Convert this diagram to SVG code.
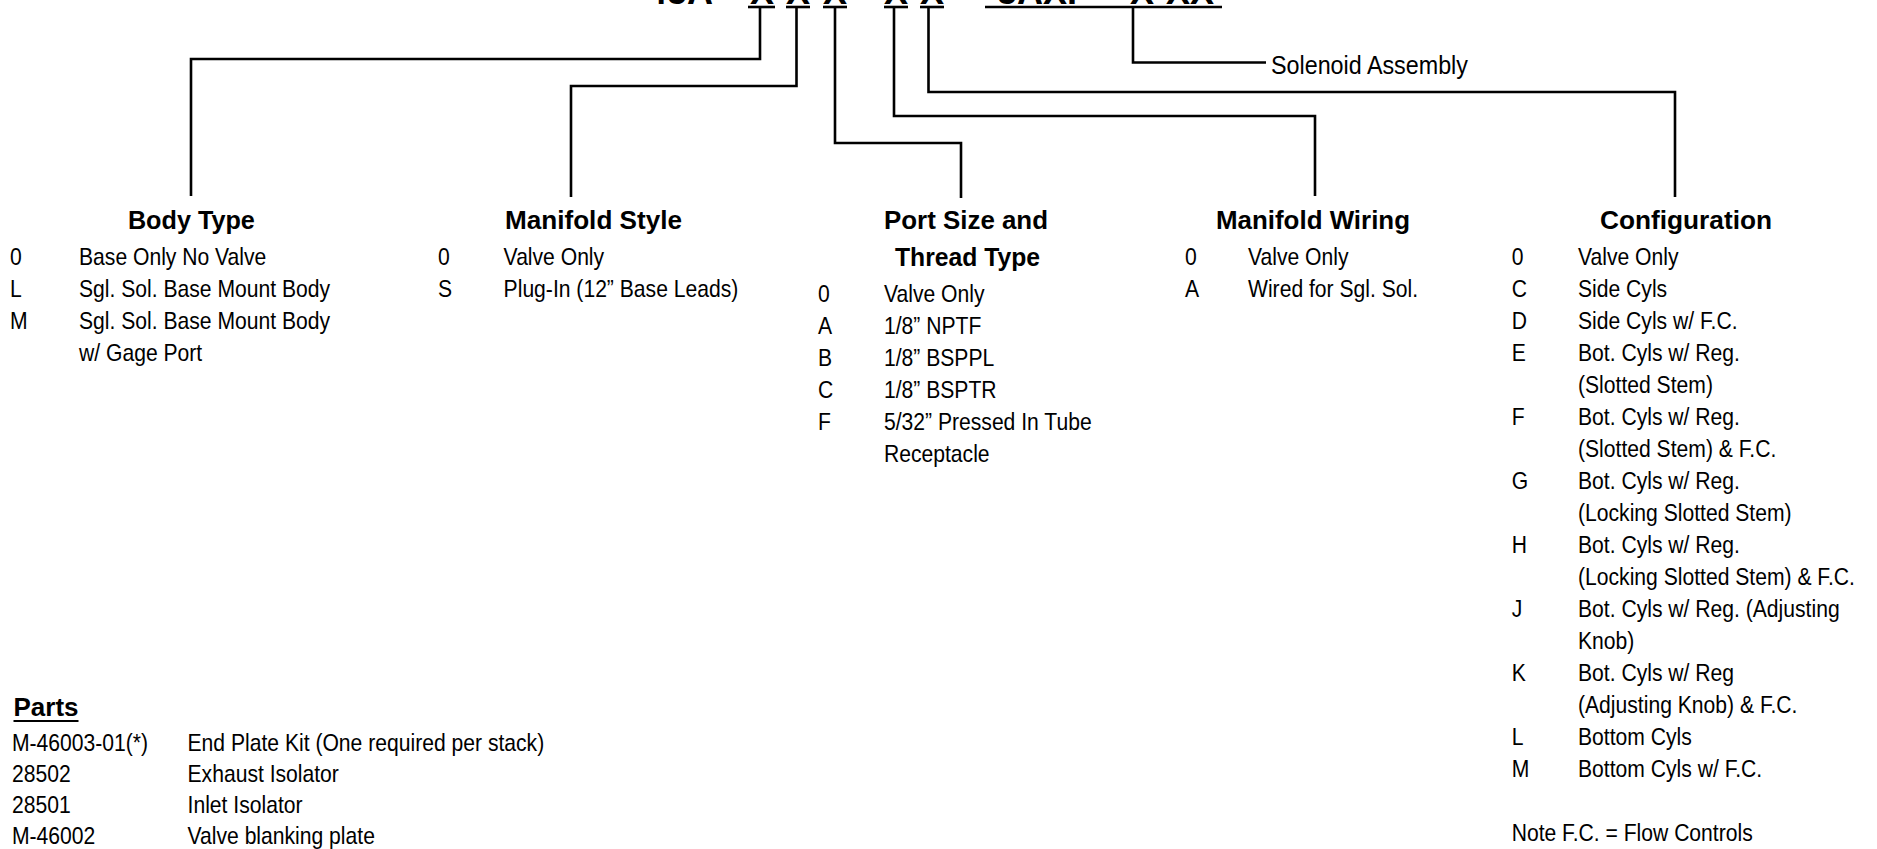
<svg xmlns="http://www.w3.org/2000/svg" width="1877" height="849" viewBox="0 0 1877 849">
<style>
.t{font-family:"Liberation Sans",Arial,sans-serif;font-size:24px;fill:#000}
.h{font-family:"Liberation Sans",Arial,sans-serif;font-size:25.5px;font-weight:bold;fill:#000;text-anchor:middle}
.ttl{font-family:"Liberation Sans",Arial,sans-serif;font-size:36px;font-weight:bold;fill:#000;text-anchor:middle}
.c{fill:none;stroke:#000;stroke-width:2.6;stroke-linejoin:miter;stroke-linecap:butt}
.u{stroke:#000;stroke-width:2.6}
</style>
<rect width="1877" height="849" fill="#fff"/>
<g id="title">
<text class="ttl" y="4"><tspan x="680">45A</tspan><tspan x="730">-</tspan><tspan x="762">X</tspan><tspan x="798">X</tspan><tspan x="835">X</tspan><tspan x="866">-</tspan><tspan x="896">X</tspan><tspan x="932">X</tspan><tspan x="963">-</tspan><tspan x="1044">5AXP</tspan><tspan x="1116">-</tspan><tspan x="1142">X</tspan><tspan x="1190">XX</tspan></text>
<line class="u" x1="748" y1="7" x2="775" y2="7"/>
<line class="u" x1="786" y1="7" x2="810" y2="7"/>
<line class="u" x1="823" y1="7" x2="847" y2="7"/>
<line class="u" x1="884" y1="7" x2="908" y2="7"/>
<line class="u" x1="920" y1="7" x2="944" y2="7"/>
<line class="u" x1="985" y1="7" x2="1222" y2="7"/>
</g>
<g id="connectors">
<path class="c" d="M760,7 V59 H191 V196"/>
<path class="c" d="M796.5,7 V86 H571 V197"/>
<path class="c" d="M835,7 V143 H961 V198"/>
<path class="c" d="M894,7 V116 H1315 V196"/>
<path class="c" d="M928.5,7 V92 H1675 V197"/>
<path class="c" d="M1133,7 V62.5 H1266"/>
</g>
<g id="solenoid-assembly">
<text class="t" transform="scale(0.88,1)" x="1444.3" y="74" style="font-size:26.5px">Solenoid Assembly</text>
</g>
<g id="body-type">
<text class="h" x="191.4" y="229" textLength="127" lengthAdjust="spacingAndGlyphs">Body Type</text>
<g transform="scale(0.88,1)">
<text class="t" x="11.4" y="265">0</text><text class="t" x="89.8" y="265">Base Only No Valve</text>
<text class="t" x="11.4" y="297">L</text><text class="t" x="89.8" y="297">Sgl. Sol. Base Mount Body</text>
<text class="t" x="11.4" y="329">M</text><text class="t" x="89.8" y="329">Sgl. Sol. Base Mount Body</text>
<text class="t" x="89.8" y="361">w/ Gage Port</text>
</g>
</g>
<g id="manifold-style">
<text class="h" x="593.5" y="229" textLength="177" lengthAdjust="spacingAndGlyphs">Manifold Style</text>
<g transform="scale(0.88,1)">
<text class="t" x="497.7" y="265">0</text><text class="t" x="572.3" y="265">Valve Only</text>
<text class="t" x="497.7" y="297">S</text><text class="t" x="572.3" y="297">Plug-In (12” Base Leads)</text>
</g>
</g>
<g id="port-size">
<text class="h" x="966" y="229" textLength="164" lengthAdjust="spacingAndGlyphs">Port Size and</text>
<text class="h" x="967.5" y="266" textLength="145" lengthAdjust="spacingAndGlyphs">Thread Type</text>
<g transform="scale(0.88,1)">
<text class="t" x="929.5" y="302">0</text><text class="t" x="1004.5" y="302">Valve Only</text>
<text class="t" x="929.5" y="334">A</text><text class="t" x="1004.5" y="334">1/8” NPTF</text>
<text class="t" x="929.5" y="366">B</text><text class="t" x="1004.5" y="366">1/8” BSPPL</text>
<text class="t" x="929.5" y="398">C</text><text class="t" x="1004.5" y="398">1/8” BSPTR</text>
<text class="t" x="929.5" y="430">F</text><text class="t" x="1004.5" y="430">5/32” Pressed In Tube</text>
<text class="t" x="1004.5" y="462">Receptacle</text>
</g>
</g>
<g id="manifold-wiring">
<text class="h" x="1313" y="229" textLength="194" lengthAdjust="spacingAndGlyphs">Manifold Wiring</text>
<g transform="scale(0.88,1)">
<text class="t" x="1346.6" y="265">0</text><text class="t" x="1418.2" y="265">Valve Only</text>
<text class="t" x="1346.6" y="297">A</text><text class="t" x="1418.2" y="297">Wired for Sgl. Sol.</text>
</g>
</g>
<g id="configuration">
<text class="h" x="1686" y="229" textLength="172" lengthAdjust="spacingAndGlyphs">Configuration</text>
<g transform="scale(0.88,1)">
<text class="t" x="1717.8" y="265">0</text><text class="t" x="1793.2" y="265">Valve Only</text>
<text class="t" x="1717.8" y="297">C</text><text class="t" x="1793.2" y="297">Side Cyls</text>
<text class="t" x="1717.8" y="329">D</text><text class="t" x="1793.2" y="329">Side Cyls w/ F.C.</text>
<text class="t" x="1717.8" y="361">E</text><text class="t" x="1793.2" y="361">Bot. Cyls w/ Reg.</text>
<text class="t" x="1793.2" y="393">(Slotted Stem)</text>
<text class="t" x="1717.8" y="425">F</text><text class="t" x="1793.2" y="425">Bot. Cyls w/ Reg.</text>
<text class="t" x="1793.2" y="457">(Slotted Stem) &amp; F.C.</text>
<text class="t" x="1717.8" y="489">G</text><text class="t" x="1793.2" y="489">Bot. Cyls w/ Reg.</text>
<text class="t" x="1793.2" y="521">(Locking Slotted Stem)</text>
<text class="t" x="1717.8" y="553">H</text><text class="t" x="1793.2" y="553">Bot. Cyls w/ Reg.</text>
<text class="t" x="1793.2" y="585">(Locking Slotted Stem) &amp; F.C.</text>
<text class="t" x="1717.8" y="617">J</text><text class="t" x="1793.2" y="617">Bot. Cyls w/ Reg. (Adjusting</text>
<text class="t" x="1793.2" y="649">Knob)</text>
<text class="t" x="1717.8" y="681">K</text><text class="t" x="1793.2" y="681">Bot. Cyls w/ Reg</text>
<text class="t" x="1793.2" y="713">(Adjusting Knob) &amp; F.C.</text>
<text class="t" x="1717.8" y="745">L</text><text class="t" x="1793.2" y="745">Bottom Cyls</text>
<text class="t" x="1717.8" y="777">M</text><text class="t" x="1793.2" y="777">Bottom Cyls w/ F.C.</text>
<text class="t" x="1717.8" y="841">Note F.C. = Flow Controls</text>
</g>
</g>
<g id="parts">
<text class="h" x="46" y="716" textLength="65" lengthAdjust="spacingAndGlyphs">Parts</text>
<line class="u" x1="13.5" y1="721" x2="78.5" y2="721" style="stroke-width:2"/>
<g transform="scale(0.88,1)">
<text class="t" x="13.6" y="751">M-46003-01(*)</text><text class="t" x="213.1" y="751">End Plate Kit (One required per stack)</text>
<text class="t" x="13.6" y="782">28502</text><text class="t" x="213.1" y="782">Exhaust Isolator</text>
<text class="t" x="13.6" y="813">28501</text><text class="t" x="213.1" y="813">Inlet Isolator</text>
<text class="t" x="13.6" y="844">M-46002</text><text class="t" x="213.1" y="844">Valve blanking plate</text>
</g>
</g>
</svg>
